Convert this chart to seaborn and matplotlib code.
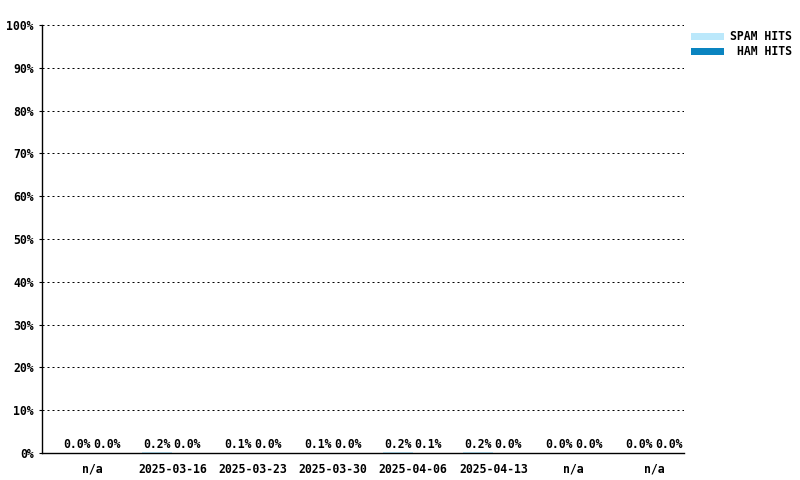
import matplotlib
matplotlib.use("Agg")
import matplotlib.pyplot as plt
import seaborn as sns
import pandas as pd
from matplotlib.patches import Rectangle

weeks = ["n/a", "2025-03-16", "2025-03-23", "2025-03-30", "2025-04-06", "2025-04-13", "n/a", "n/a"]
spam_hits = [0.0, 0.2, 0.1, 0.1, 0.2, 0.2, 0.0, 0.0]
ham_hits = [0.0, 0.0, 0.0, 0.0, 0.1, 0.0, 0.0, 0.0]
series = ["SPAM HITS", "HAM HITS"]
colors = {"SPAM HITS": "#bbe8fb", "HAM HITS": "#0a84c0"}
yticks = list(range(0, 101, 10))

sns.set_theme(style="white")
plt.rcParams["font.family"] = ["DejaVu Sans Mono", "DejaVu Sans"]
plt.rcParams["font.weight"] = "bold"
plt.rcParams["text.color"] = "black"
plt.rcParams["xtick.color"] = "black"
plt.rcParams["ytick.color"] = "black"

rows = []
for i in range(len(weeks)):
    rows.append({"week": i, "series": "SPAM HITS", "value": spam_hits[i]})
    rows.append({"week": i, "series": "HAM HITS", "value": ham_hits[i]})
df = pd.DataFrame(rows)

fig = plt.figure(figsize=(8, 4.8), dpi=100)
ax = fig.add_axes([42 / 800, 27 / 480, 642 / 800, 428 / 480])

sns.barplot(data=df, x="week", y="value", hue="series", hue_order=series,
            palette=colors, width=0.75, ax=ax, legend=False, saturation=1,
            linewidth=0, errorbar=None)

for cont in ax.containers:
    for b in cont:
        ax.annotate(f"{b.get_height():.1f}%",
                    (b.get_x() + b.get_width() / 2, 0),
                    xytext=(0, 1.5), textcoords="offset points",
                    ha="center", va="bottom", fontsize=8.3,
                    fontweight="bold", color="black")

ax.set_xlim(-0.623, 7.374)
ax.set_ylim(0, 100)
ax.set_yticks(yticks)
ax.set_yticklabels([f"{v}%" for v in yticks], fontsize=8.3, fontweight="bold")
ax.set_xticks(range(len(weeks)))
ax.set_xticklabels(weeks, fontsize=8.3, fontweight="bold")
ax.set_xlabel("")
ax.set_ylabel("")

for v in yticks[1:]:
    ax.axhline(v, color="black", linewidth=0.72, linestyle=(0, (2, 3)), zorder=0)

for s in ["top", "right"]:
    ax.spines[s].set_visible(False)
for s in ["left", "bottom"]:
    ax.spines[s].set_color("black")
    ax.spines[s].set_linewidth(1.0)

ax.tick_params(axis="x", direction="in", length=4, width=0.8, color="black",
               labelcolor="black", pad=7)
ax.tick_params(axis="y", direction="out", length=2, width=0.8, color="black",
               labelcolor="black", pad=4, left=True)

# legend
for k, name in enumerate(series):
    ytop = 33 + k * 15
    fig.add_artist(Rectangle((691 / 800, 1 - (ytop + 6.5) / 480), 33 / 800, 6.5 / 480,
                             transform=fig.transFigure, facecolor=colors[name],
                             edgecolor="none"))
    fig.text(792 / 800, 1 - (ytop + 3.5) / 480, name, ha="right", va="center",
             fontsize=8.3, fontweight="bold", color="black")

fig.savefig("out.png", dpi=100, facecolor="white")
